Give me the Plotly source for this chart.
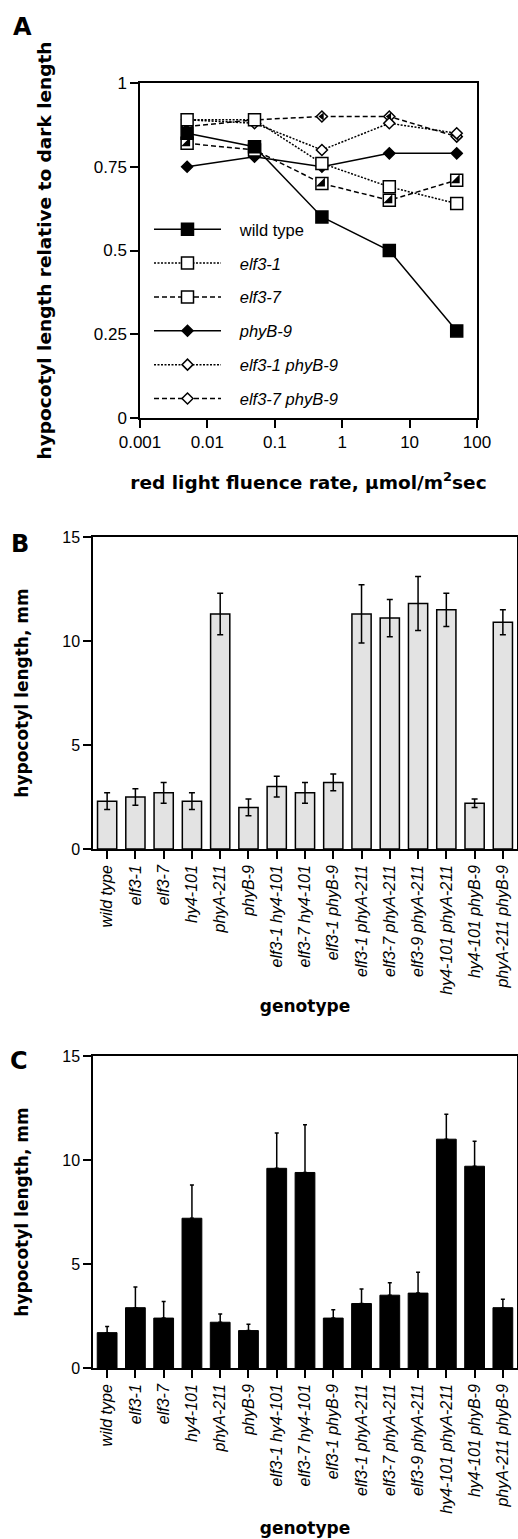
import plotly.graph_objects as go

W, H = 518, 1539

# ---------------- Panel A data ----------------
fluence = [0.005, 0.05, 0.5, 5, 50]
wild_type = [0.85, 0.81, 0.60, 0.50, 0.26]
elf3_1 = [0.89, 0.89, 0.76, 0.69, 0.64]
elf3_7 = [0.82, 0.80, 0.70, 0.65, 0.71]
phyB_9 = [0.75, 0.78, 0.75, 0.79, 0.79]
elf3_1_phyB_9 = [0.89, 0.88, 0.80, 0.88, 0.85]
elf3_7_phyB_9 = [0.87, 0.89, 0.90, 0.90, 0.84]

a_xticks = [0.001, 0.01, 0.1, 1, 10, 100]
a_xticktext = ["0.001", "0.01", "0.1", "1", "10", "100"]
a_yticks = [0, 0.25, 0.5, 0.75, 1]
a_yticktext = ["0", "0.25", "0.5", "0.75", "1"]

# ---------------- Panels B and C data ----------------
genotypes = ["wild type", "elf3-1", "elf3-7", "hy4-101", "phyA-211", "phyB-9",
             "elf3-1 hy4-101", "elf3-7 hy4-101", "elf3-1 phyB-9",
             "elf3-1 phyA-211", "elf3-7 phyA-211", "elf3-9 phyA-211",
             "hy4-101 phyA-211", "hy4-101 phyB-9", "phyA-211 phyB-9"]
length_b = [2.3, 2.5, 2.7, 2.3, 11.3, 2.0, 3.0, 2.7, 3.2, 11.3, 11.1, 11.8, 11.5, 2.2, 10.9]
error_b = [0.4, 0.4, 0.5, 0.4, 1.0, 0.4, 0.5, 0.5, 0.4, 1.4, 0.9, 1.3, 0.8, 0.2, 0.6]
length_c = [1.7, 2.9, 2.4, 7.2, 2.2, 1.8, 9.6, 9.4, 2.4, 3.1, 3.5, 3.6, 11.0, 9.7, 2.9]
error_c = [0.3, 1.0, 0.8, 1.6, 0.4, 0.3, 1.7, 2.3, 0.4, 0.7, 0.6, 1.0, 1.2, 1.2, 0.4]
bc_yticks = [0, 5, 10, 15]

TICKFONT = "Liberation Sans, Arial, sans-serif"
TITLEFONT = "DejaVu Sans, sans-serif"


def px_x(p):
    return p / W


def px_y(p):
    return 1 - p / H


fig = go.Figure()

# ---------------- Panel A traces ----------------
NBSP = "\u00a0\u00a0\u00a0"
series = [
    ("wild type", wild_type, "solid", "square", "black", 12, 60, False),
    ("<i>elf3-1</i>", elf3_1, "2px,1.5px", "square", "white", 12, 50, False),
    ("<i>elf3-7</i>", elf3_7, "5px,3px", "square", "white", 12, 40, True),
    ("<i>phyB-9</i>", phyB_9, "solid", "diamond", "black", 8.5, 30, False),
    ("<i>elf3-1 phyB-9</i>", elf3_1_phyB_9, "2px,1.5px", "diamond", "white", 8.5, 20, False),
    ("<i>elf3-7 phyB-9</i>", elf3_7_phyB_9, "5px,3px", "diamond", "white", 8.5, 10, True),
]
rank = {s[0]: i for i, s in enumerate(series)}
for name, vals, dash, sym, fill, size, order, half in sorted(series, key=lambda s: s[6]):
    fig.add_trace(go.Scatter(
        x=fluence, y=vals, mode="lines+markers", name=NBSP + name,
        legendgroup=name, legendrank=rank[name] + 1,
        line=dict(color="black", width=1.5, dash=dash),
        marker=dict(symbol=sym, size=size, color=fill, line=dict(color="black", width=1.5)),
        xaxis="x", yaxis="y", cliponaxis=False,
    ))
    if half:
        hsym = "triangle-se" if sym == "square" else "triangle-left"
        hsize = 10 if sym == "square" else 7
        fig.add_trace(go.Scatter(
            x=fluence, y=vals, mode="markers", showlegend=False, legendgroup=name,
            marker=dict(symbol=hsym, size=hsize, color="black", line=dict(width=0)),
            xaxis="x", yaxis="y", cliponaxis=False, hoverinfo="skip",
        ))

# ---------------- Panel B ----------------
fig.add_trace(go.Bar(
    x=genotypes, y=length_b, showlegend=False,
    marker=dict(color="#e3e3e3", line=dict(color="black", width=1.5)),
    error_y=dict(type="data", array=error_b, symmetric=True, color="black", thickness=1.5, width=3),
    width=0.68, xaxis="x2", yaxis="y2",
))

# ---------------- Panel C ----------------
fig.add_trace(go.Bar(
    x=genotypes, y=length_c, showlegend=False,
    marker=dict(color="black", line=dict(color="black", width=1)),
    error_y=dict(type="data", array=error_c, arrayminus=[0] * len(error_c), symmetric=False,
                 color="black", thickness=1.5, width=2),
    width=0.7, xaxis="x3", yaxis="y3",
))

common_axis = dict(
    showline=True, linecolor="black", linewidth=1.5, mirror=True,
    ticks="outside", ticklen=8, tickwidth=1.5, tickcolor="black",
    showgrid=False, zeroline=False, automargin=False,
)

tickfont_a = dict(family=TICKFONT, size=17, color="black")
tickfont_bc = dict(family=TICKFONT, size=16, color="black")
titlefont_a = dict(family=TITLEFONT, size=18.5, color="black", weight="bold")
titlefont_bc = dict(family=TITLEFONT, size=17, color="black", weight="bold")

fig.update_layout(
    width=W, height=H, template="none",
    margin=dict(l=0, r=0, t=0, b=0, pad=0),
    paper_bgcolor="white", plot_bgcolor="white",
    showlegend=True,
    legend=dict(
        x=px_x(149), y=px_y(212), xanchor="left", yanchor="top",
        bgcolor="rgba(0,0,0,0)", borderwidth=0,
        font=dict(family=TICKFONT, size=16.5, color="black"),
        itemwidth=67, tracegroupgap=9.4, traceorder="grouped",
    ),
    xaxis=dict(
        common_axis, type="log", range=[-3, 2], domain=[px_x(140), px_x(477)], anchor="y",
        tickvals=a_xticks, ticktext=a_xticktext, tickfont=tickfont_a,
        title=dict(text="red light fluence rate, µmol/m<sup>2</sup>sec", font=titlefont_a, standoff=25),
    ),
    yaxis=dict(
        common_axis, range=[0, 1], domain=[px_y(418), px_y(83)], anchor="x",
        tickvals=a_yticks, ticktext=a_yticktext, tickfont=tickfont_a,
        title=dict(text="hypocotyl length relative to dark length", font=titlefont_a, standoff=37),
    ),
    xaxis2=dict(
        common_axis, type="category", range=[-0.5, 14.5], domain=[px_x(93), px_x(517)], anchor="y2",
        tickangle=-90, tickfont=dict(tickfont_bc, style="italic"),
        title=dict(text="genotype", font=titlefont_bc, standoff=6),
    ),
    yaxis2=dict(
        common_axis, range=[0, 15], domain=[px_y(849), px_y(537)], anchor="x2",
        tickvals=bc_yticks, tickfont=tickfont_bc,
        title=dict(text="hypocotyl length, mm", font=titlefont_bc, standoff=29),
    ),
    xaxis3=dict(
        common_axis, type="category", range=[-0.5, 14.5], domain=[px_x(93), px_x(517)], anchor="y3",
        tickangle=-90, tickfont=dict(tickfont_bc, style="italic"),
        title=dict(text="genotype", font=titlefont_bc, standoff=9),
    ),
    yaxis3=dict(
        common_axis, range=[0, 15], domain=[px_y(1368), px_y(1056)], anchor="x3",
        tickvals=bc_yticks, tickfont=tickfont_bc,
        title=dict(text="hypocotyl length, mm", font=titlefont_bc, standoff=29),
    ),
)

panel_font = dict(family=TITLEFONT, size=24, color="black", weight="bold")
for label, cx, cy in [("A", 22, 27), ("B", 20, 544), ("C", 19, 1061)]:
    fig.add_annotation(text=label, x=px_x(cx), y=px_y(cy), xref="paper", yref="paper",
                       showarrow=False, font=panel_font, xanchor="center", yanchor="middle")

fig.write_html(
    "out.html",
    config={"displayModeBar": False},
    post_script="document.body.style.margin='0';document.body.style.overflow='hidden';",
)
